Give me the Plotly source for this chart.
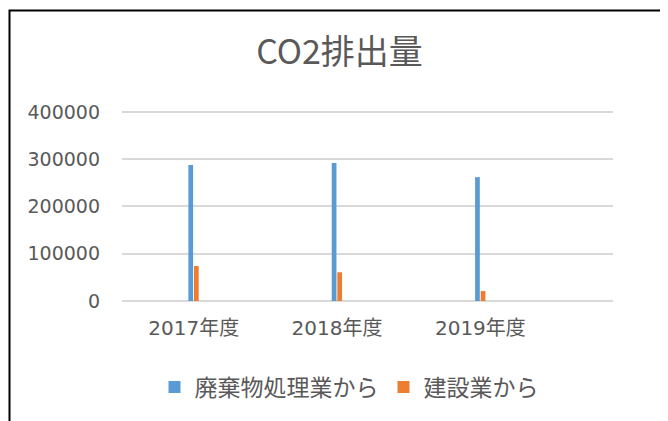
import plotly.graph_objects as go

categories = ["2017年度", "2018年度", "2019年度"]
waste_values = [287500, 291700, 262000]
construction_values = [74000, 60800, 21000]
series_names = ["廃棄物処理業から", "建設業から"]
y_ticks = [0, 100000, 200000, 300000, 400000]
y_ticklabels = ["0", "100000", "200000", "300000", "400000"]

# page body has an 8px margin, so the figure itself starts at (8, 8)
OFF = 8
YMAX = 404000
W, H = 668 - OFF, 421 - OFF
L, R, T, B = 122 - OFF, 668 - 613, 110 - OFF, 421 - 301
pw, ph = W - L - R, H - T - B

BLUE = "#5B9BD5"
ORANGE = "#ED7D31"
GRAY = "#595959"

fig = go.Figure()
fig.add_trace(go.Bar(x=categories, y=waste_values, name=series_names[0],
                     marker=dict(color=BLUE, line=dict(width=0)),
                     width=0.033, offset=-0.037))
fig.add_trace(go.Bar(x=categories, y=construction_values, name=series_names[1],
                     marker=dict(color=ORANGE, line=dict(width=0)),
                     width=0.033, offset=0.002))

def px_x(p):
    return (p - OFF - L) / pw

def px_y(p):
    return (H - B - (p - OFF)) / ph

fig.update_layout(
    width=W, height=H, autosize=False,
    margin=dict(l=L, r=R, t=T, b=B, pad=0),
    paper_bgcolor="white", plot_bgcolor="white",
    barmode="group",
    title=dict(text="CO2排出量", x=(339.5 - OFF) / W, xanchor="center", xref="container",
               y=1 - (52 - OFF) / H, yanchor="middle", yref="container",
               font=dict(family="Noto Sans CJK JP", size=34, color=GRAY)),
    xaxis=dict(type="category", range=[-0.5, 2.925], showgrid=False, zeroline=False,
               showline=False, ticks="", ticklabelstandoff=13,
               tickfont=dict(family="DejaVu Sans, Noto Sans CJK JP", size=20, color=GRAY)),
    yaxis=dict(range=[0, YMAX], tickvals=y_ticks, ticktext=y_ticklabels,
               showgrid=True, gridcolor="#D9D9D9", gridwidth=1.5,
               zeroline=True, zerolinecolor="#D9D9D9", zerolinewidth=1.5,
               showline=False, ticks="", ticklabelstandoff=21,
               tickfont=dict(family="DejaVu Sans", size=19, color=GRAY)),
    showlegend=True,
    legend=dict(orientation="h", xref="container", yref="container",
                x=(349 - OFF) / W, xanchor="center", y=1 - (387 - OFF) / H, yanchor="middle",
                font=dict(family="Noto Sans CJK JP", size=23, color=GRAY),
                itemwidth=30, traceorder="normal", bgcolor="rgba(0,0,0,0)"),
    shapes=[dict(type="rect", xref="paper", yref="paper",
                 x0=px_x(9.5), x1=px_x(690), y0=px_y(440), y1=px_y(10.5),
                 line=dict(color="black", width=2), fillcolor="rgba(0,0,0,0)",
                 layer="above")],
)

fig.write_html("out.html")
